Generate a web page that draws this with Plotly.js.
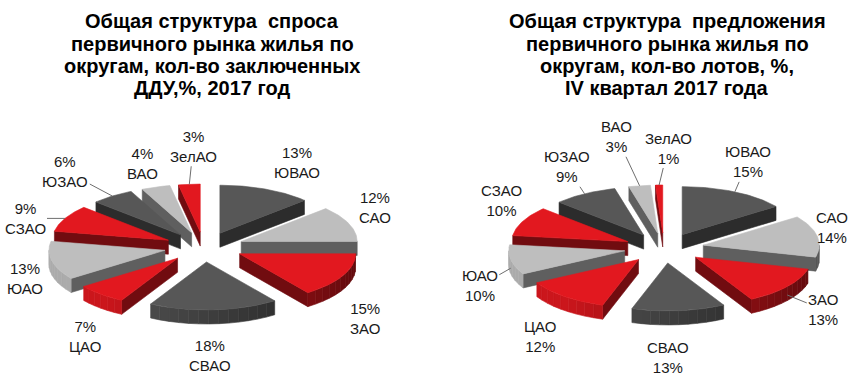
<!DOCTYPE html>
<html>
<head>
<meta charset="utf-8">
<script src="https://cdn.plot.ly/plotly-3.0.1.min.js"></script>
<style>
  html, body { margin: 0; padding: 0; background: #fff; }
  #chart { width: 860px; height: 382px; }
</style>
</head>
<body>
<div id="chart"></div>
<script>
// ---------------- DATA ----------------
const districts = ['ЮВАО', 'САО', 'ЗАО', 'СВАО', 'ЦАО', 'ЮАО', 'СЗАО', 'ЮЗАО', 'ВАО', 'ЗелАО'];
const demandShare = [13, 12, 15, 18, 7, 13, 9, 6, 4, 3];     // ДДУ, 2017 год, %
const supplyShare = [15, 14, 13, 13, 12, 10, 10, 9, 3, 1];   // лоты, IV кв. 2017, %
const titleLeftLines = ['Общая структура  спроса', 'первичного рынка жилья по', 'округам, кол-во заключенных', 'ДДУ,%, 2017 год'];
const titleRightLines = ['Общая структура  предложения', 'первичного рынка жилья по', 'округам, кол-во лотов, %,', 'IV квартал 2017 года'];

// ---------------- STYLE ----------------
const DARK = '#575757', LIGHT = '#bebebe', RED = '#e2181f';
const sliceColors = [DARK, LIGHT, RED, DARK, RED, LIGHT, RED, DARK, LIGHT, RED];
const FONT = '"Liberation Sans", Arial, sans-serif';
const RX = 116, RY = 48, DEPTH = 14, EXPLODE = 40, EXPLODE_Y = 15;

const pies = [
  {
    values: demandShare, cx: 204, cy: 247, titleX: 212, titleLines: titleLeftLines,
    fmt: (n, v) => v + '%<br>' + n,
    nudge: [[31,-27],[26,-16],[22,43],[-4,46],[-16,42],[-27,18],[-40,0],[-47,-25],[-13,-24],[4,-38]],
    leader: [false,false,false,false,false,false,true,true,false,true]
  },
  {
    values: supplyShare, cx: 664, cy: 248, titleX: 667, titleLines: titleRightLines,
    fmt: (n, v) => n + '<br>' + v + '%',
    nudge: [[13,-30],[15,-9],[36,23],[-11,47],[-25,40],[-31,26],[-21,-21],[-18,-27],[-23,-49],[9,-37]],
    leader: [true,false,true,false,false,true,false,true,true,true]
  }
];
const TITLE_LINE_Y = [21, 44, 66, 88];

function shade(hex, f) {
  const r = parseInt(hex.slice(1,3),16), g = parseInt(hex.slice(3,5),16), b = parseInt(hex.slice(5,7),16);
  return 'rgb(' + Math.round(r*f) + ',' + Math.round(g*f) + ',' + Math.round(b*f) + ')';
}

const deg = Math.PI / 180;
const traces = [];
const annotations = [];

function poly(pts, color) {
  traces.push({
    type: 'scatter', mode: 'lines', fill: 'toself',
    x: pts.map(p => p[0]), y: pts.map(p => p[1]),
    fillcolor: color, line: { color: color, width: 0.6 },
    hoverinfo: 'skip', showlegend: false
  });
}

pies.forEach(P => {
  const total = P.values.reduce((a, b) => a + b, 0);
  let cum = 0;
  const slices = P.values.map((v, i) => {
    const a1 = cum / total * 360; cum += v; const a2 = cum / total * 360;
    const am = (a1 + a2) / 2;
    return { i, v, a1, a2, am, ox: EXPLODE * Math.sin(am*deg), oy: -EXPLODE_Y * Math.cos(am*deg) };
  });
  const rim = (s, th, dz) => [P.cx + s.ox + RX*Math.sin(th*deg), P.cy + s.oy - RY*Math.cos(th*deg) + (dz||0)];
  const apex = (s, dz) => [P.cx + s.ox, P.cy + s.oy + (dz||0)];

  const order = slices.slice().sort((a, b) => Math.cos(b.am*deg) - Math.cos(a.am*deg));
  order.forEach(s => {
    const base = sliceColors[s.i];
    // radial (cut) walls
    if (Math.sin(s.a1*deg) < -1e-6) {
      poly([apex(s), rim(s, s.a1), rim(s, s.a1, DEPTH), apex(s, DEPTH), apex(s)], shade(base, 0.5));
    }
    if (Math.sin(s.a2*deg) > 1e-6) {
      poly([apex(s), rim(s, s.a2), rim(s, s.a2, DEPTH), apex(s, DEPTH), apex(s)], shade(base, 0.5));
    }
    // outer curved wall
    const lo = Math.max(s.a1, 90), hi = Math.min(s.a2, 270);
    if (hi > lo) {
      const n = Math.ceil((hi - lo) / 5);
      for (let k = 0; k < n; k++) {
        const t0 = lo + (hi - lo) * k / n, t1 = lo + (hi - lo) * (k + 1) / n;
        const pts = [];
        const m = 6;
        for (let j = 0; j <= m; j++) pts.push(rim(s, t0 + (t1 - t0) * j / m));
        for (let j = m; j >= 0; j--) pts.push(rim(s, t0 + (t1 - t0) * j / m, DEPTH));
        pts.push(pts[0]);
        const tm = (t0 + t1) / 2;
        const f = Math.min(0.9, 0.72 - 0.28 * Math.sin(tm*deg));
        poly(pts, shade(base, f));
      }
    }
    // top face
    const pts = [apex(s)];
    const m = Math.max(2, Math.ceil(s.a2 - s.a1));
    for (let j = 0; j <= m; j++) pts.push(rim(s, s.a1 + (s.a2 - s.a1) * j / m));
    pts.push(apex(s));
    poly(pts, base);
  });

  // data labels
  slices.forEach(s => {
    const r = rim(s, s.am);
    const pos = [r[0] + P.nudge[s.i][0], r[1] + P.nudge[s.i][1]];
    const text = P.fmt(districts[s.i], s.v);
    const font = { family: FONT, size: 15, color: '#1a1a1a' };
    if (P.leader[s.i]) {
      const tip = [r[0], r[1] + (Math.cos(s.am*deg) < 0 ? DEPTH*0.6 : 0)];
      annotations.push({
        x: tip[0], y: tip[1], xref: 'x', yref: 'y',
        ax: pos[0], ay: pos[1], axref: 'x', ayref: 'y',
        showarrow: true, arrowhead: 0, arrowwidth: 1, arrowcolor: '#6e6e6e',
        text, font
      });
    } else {
      annotations.push({ x: pos[0], y: pos[1], xref: 'x', yref: 'y', showarrow: false, text, font });
    }
  });

  // title (one annotation per line to control line spacing)
  P.titleLines.forEach((line, k) => {
    annotations.push({ x: P.titleX, y: TITLE_LINE_Y[k], xref: 'x', yref: 'y', showarrow: false,
      text: '<b>' + line + '</b>', font: { family: FONT, size: 20, color: '#000' } });
  });
});

const layout = {
  width: 860, height: 382,
  margin: { l: 0, r: 0, t: 0, b: 0 },
  paper_bgcolor: '#fff', plot_bgcolor: '#fff',
  xaxis: { range: [0, 860], visible: false, fixedrange: true, showgrid: false, zeroline: false },
  yaxis: { range: [382, 0], visible: false, fixedrange: true, showgrid: false, zeroline: false },
  showlegend: false,
  annotations
};
Plotly.newPlot('chart', traces, layout, { staticPlot: true, displayModeBar: false });
</script>
</body>
</html>
